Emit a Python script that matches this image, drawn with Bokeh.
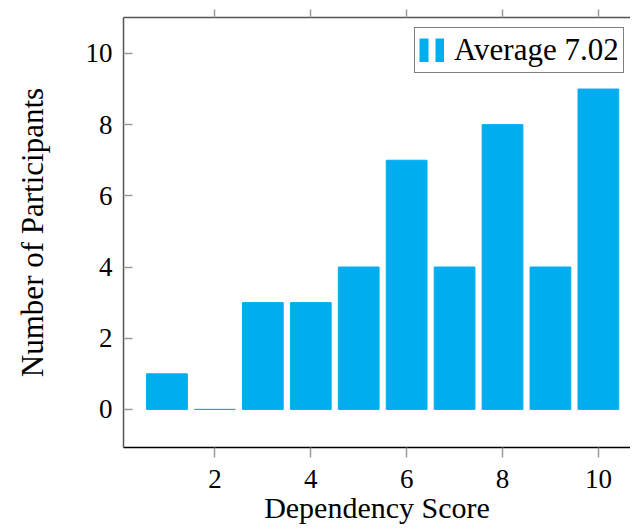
from bokeh.plotting import figure
from bokeh.models import Range1d, LinearAxis, Legend, LegendItem, FixedTicker
from bokeh.embed import file_html
from bokeh.resources import INLINE

scores = [1, 2, 3, 4, 5, 6, 7, 8, 9, 10]
participants = [1, 0, 3, 3, 4, 7, 4, 8, 4, 9]
x_ticks = [2, 4, 6, 8, 10]
y_ticks = [0, 2, 4, 6, 8, 10]
legend_label = "Average 7.02"
x_title = "Dependency Score"
y_title = "Number of Participants"

FONT = "Liberation Serif"
CYAN = "#00AEEF"

p = figure(width=630, height=526,
           x_range=Range1d(0.093, 10.67), y_range=Range1d(-1.07, 11.01),
           output_backend="svg", toolbar_location=None,
           min_border_left=123, min_border_right=0, min_border_top=17,
           min_border_bottom=60,
           x_axis_label=x_title, y_axis_label=y_title)
p.outline_line_color = None
p.xgrid.visible = False
p.ygrid.visible = False
p.background_fill_color = "white"
p.border_fill_color = "white"

p.vbar(x=scores, top=participants, bottom=0, width=0.85,
       fill_color=CYAN, line_color=CYAN, line_width=1)

for ax in p.xaxis:
    ax.ticker = FixedTicker(ticks=x_ticks)
    ax.major_tick_in = 0
    ax.major_tick_out = 10
    ax.minor_tick_line_color = None
    ax.major_tick_line_color = "#9a9a9a"
    ax.major_tick_line_width = 1.5
    ax.axis_line_color = "black"
    ax.axis_line_width = 1.3
    ax.major_label_text_font = FONT
    ax.major_label_text_font_size = "27px"
    ax.major_label_text_color = "black"
    ax.major_label_standoff = 12
    ax.axis_label_text_font = FONT
    ax.axis_label_text_font_size = "30px"
    ax.axis_label_text_font_style = "normal"
    ax.axis_label_text_color = "black"
    ax.axis_label_standoff = 0

for ax in p.yaxis:
    ax.ticker = FixedTicker(ticks=y_ticks)
    ax.major_tick_in = 9
    ax.major_tick_out = 0
    ax.minor_tick_line_color = None
    ax.major_tick_line_color = "#9a9a9a"
    ax.major_tick_line_width = 1.5
    ax.axis_line_color = "#555555"
    ax.axis_line_width = 1.5
    ax.major_label_text_font = FONT
    ax.major_label_text_font_size = "27px"
    ax.major_label_text_color = "black"
    ax.major_label_standoff = 11
    ax.axis_label_text_font = FONT
    ax.axis_label_text_font_size = "31px"
    ax.axis_label_text_font_style = "normal"
    ax.axis_label_text_color = "black"
    ax.axis_label_standoff = 33

top = LinearAxis(ticker=FixedTicker(ticks=x_ticks))
top.major_tick_in = 0
top.major_tick_out = 8
top.minor_tick_line_color = None
top.major_tick_line_color = "#9a9a9a"
top.major_tick_line_width = 1.5
top.axis_line_color = "#555555"
top.axis_line_width = 1.5
top.major_label_text_font_size = "1px"
top.major_label_text_color = None
top.major_label_standoff = 0
p.add_layout(top, "above")

leg_r = p.line(x=scores, y=participants, line_width=24, line_color=CYAN,
               line_dash="9 7", visible=False)
legend = Legend(items=[LegendItem(label=legend_label, renderers=[leg_r])],
                location=(291, 374), glyph_width=25, glyph_height=24,
                label_text_font=FONT, label_text_font_size="31px",
                label_text_color="black",
                border_line_color="black", border_line_width=1.2,
                background_fill_color="white", background_fill_alpha=1,
                padding=4, margin=0, label_standoff=10)
p.add_layout(legend)

open("out.html", "w").write(file_html(p, INLINE))
